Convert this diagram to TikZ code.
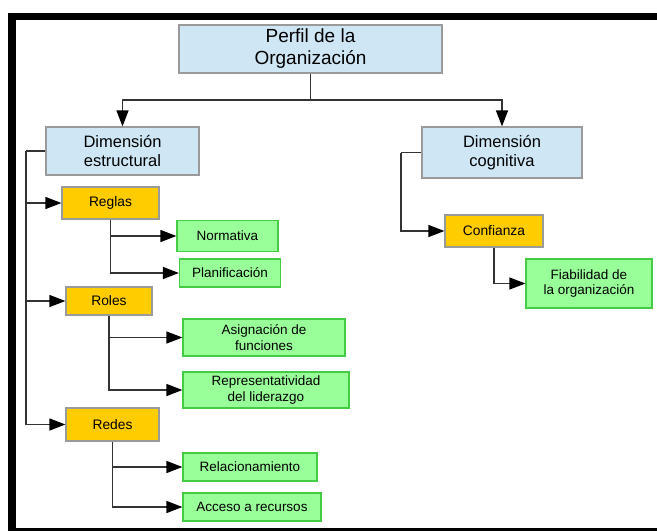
\documentclass[tikz,border=0pt]{standalone}
\usepackage{fontspec}
\setmainfont{Liberation Sans}
\usetikzlibrary{arrows.meta}
\definecolor{bluefill}{HTML}{CFE7F5}
\definecolor{yellowfill}{HTML}{FFCC00}
\definecolor{greenfill}{HTML}{99FF99}
\definecolor{greenline}{HTML}{44CC44}
\definecolor{boxline}{HTML}{9A9A9A}
\definecolor{conn}{HTML}{333333}
\tikzset{
  base/.style={draw, line width=1.2pt, inner sep=0pt, align=center, anchor=center},
  topbox/.style={base, draw=boxline, fill=bluefill, font=\fontsize{19}{22}\selectfont},
  dimbox/.style={base, draw=boxline, fill=bluefill, font=\fontsize{16.5}{19}\selectfont},
  catbox/.style={base, draw=boxline, fill=yellowfill, font=\fontsize{13.8}{16}\selectfont},
  leafbox/.style={base, draw=greenline, fill=greenfill, font=\fontsize{13.5}{15.5}\selectfont},
  link/.style={draw=conn, line width=1.3pt},
  arr/.style={link, -{Triangle[length=16pt,width=12pt,fill=black,color=black]}},
}
\begin{document}
\begin{tikzpicture}[x=1pt,y=-1pt]
\useasboundingbox (0,0) rectangle (657,531);
% frame
\fill[black] (8,13) rectangle (657,20);
\fill[black] (8,13) rectangle (15.5,531);
\fill[black] (8,527.5) rectangle (657,531);

% nodes
\node[topbox, minimum width=263pt, minimum height=48pt] (top) at (310.5,49) {Perfil de la\\Organización};
\node[dimbox, minimum width=153pt, minimum height=48pt] (est) at (122.5,151) {Dimensión\\estructural};
\node[dimbox, minimum width=160pt, minimum height=51pt] (cog) at (502,152.5) {Dimensión\\cognitiva};

\node[catbox, minimum width=97pt, minimum height=32pt] (reglas) at (110.5,203) {Reglas};
\node[catbox, minimum width=86pt, minimum height=28pt] (roles) at (109,301) {Roles};
\node[catbox, minimum width=93pt, minimum height=33pt] (redes) at (112.5,424.5) {Redes};
\node[catbox, minimum width=98pt, minimum height=32pt] (conf) at (494,231) {Confianza};

\node[leafbox, minimum width=101pt, minimum height=31pt] (norm) at (227.5,236) {Normativa};
\node[leafbox, minimum width=101pt, minimum height=28pt] (plan) at (230,273) {Planificación};
\node[leafbox, minimum width=162pt, minimum height=37pt] (asig) at (264,337.5) {Asignación de\\funciones};
\node[leafbox, minimum width=166pt, minimum height=36pt] (rep) at (266,390) {Representatividad\\del liderazgo};
\node[leafbox, minimum width=134pt, minimum height=28pt] (rel) at (250,467) {Relacionamiento};
\node[leafbox, minimum width=138pt, minimum height=28pt] (acc) at (252,507) {Acceso a recursos};
\node[leafbox, minimum width=126pt, minimum height=49pt] (fiab) at (589,283.5) {Fiabilidad de\\la organización};

% connectors
\coordinate (hub) at (310.5,100);
\draw[link] (top.south) -- (hub);
\draw[arr] (hub) -| (est.north);
\draw[arr] (hub) -| (cog.north);

\coordinate (lbus) at (26,151);
\draw[link] (est.west) -- (lbus);
\draw[arr] (lbus) |- (reglas.west);
\draw[arr] (lbus) |- (roles.west);
\draw[arr] (lbus) |- (redes.west);

\draw[arr] (reglas.south) |- (norm.west);
\draw[arr] (reglas.south) |- (plan.west);
\draw[arr] (roles.south) |- (asig.west);
\draw[arr] (roles.south) |- (rep.west);
\draw[arr] (redes.south) |- (rel.west);
\draw[arr] (redes.south) |- (acc.west);

\coordinate (rbus) at (401,152.5);
\draw[link] (cog.west) -- (rbus);
\draw[arr] (rbus) |- (conf.west);
\draw[arr] (conf.south) |- (fiab.west);
\end{tikzpicture}
\end{document}
